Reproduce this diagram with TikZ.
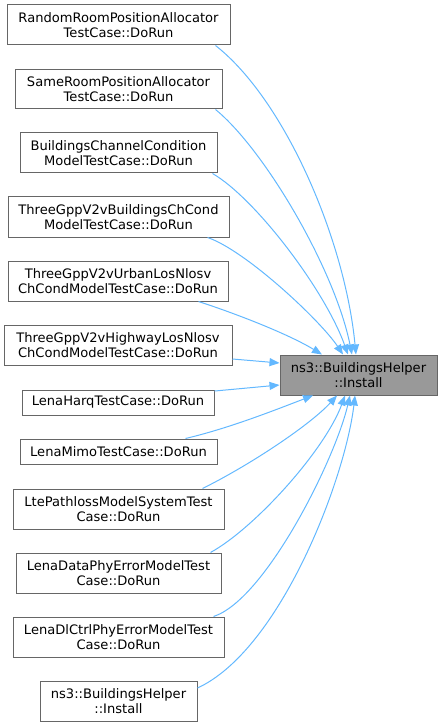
\documentclass[tikz,border=0pt]{standalone}
\usepackage{fontspec}
\newfontfamily\dvs{DejaVu Sans}
\usetikzlibrary{arrows.meta}
\definecolor{edgeblue}{HTML}{63B8FF}
\definecolor{boxborder}{HTML}{666666}
\definecolor{targetfill}{HTML}{999999}
\tikzset{
  fnbox/.style={draw=boxborder, line width=0.75pt, fill=white, rectangle, inner sep=0pt, align=center,
    font=\dvs\fontsize{9.8}{11.3}\selectfont},
  targetbox/.style={fnbox, fill=targetfill},
  edge/.style={draw=edgeblue, line width=0.75pt, -{Triangle[length=7.5pt,width=6pt]}}
}
\begin{document}
\begin{tikzpicture}[x=0.75pt,y=-0.75pt]
\useasboundingbox (0,0) rectangle (443,727);
\node[fnbox, minimum width=167.25pt, minimum height=30pt] (n1) at (118.5,25) {RandomRoomPositionAllocator\\TestCase::DoRun};
\node[fnbox, minimum width=155.25pt, minimum height=29.25pt] (n2) at (118.5,89.5) {SameRoomPositionAllocator\\TestCase::DoRun};
\node[fnbox, minimum width=147.75pt, minimum height=30pt] (n3) at (118.5,153) {BuildingsChannelCondition\\ModelTestCase::DoRun};
\node[fnbox, minimum width=165.75pt, minimum height=30pt] (n4) at (118.5,217) {ThreeGppV2vBuildingsChCond\\ModelTestCase::DoRun};
\node[fnbox, minimum width=165pt, minimum height=30pt] (n5) at (118,281) {ThreeGppV2vUrbanLosNlosv\\ChCondModelTestCase::DoRun};
\node[fnbox, minimum width=171pt, minimum height=30pt] (n6) at (118,345) {ThreeGppV2vHighwayLosNlosv\\ChCondModelTestCase::DoRun};
\node[fnbox, minimum width=144pt, minimum height=18.75pt] (n7) at (118,402.5) {LenaHarqTestCase::DoRun};
\node[fnbox, minimum width=147.75pt, minimum height=18.75pt] (n8) at (118.5,451.5) {LenaMimoTestCase::DoRun};
\node[fnbox, minimum width=158.25pt, minimum height=30pt] (n9) at (118.5,509) {LtePathlossModelSystemTest\\Case::DoRun};
\node[fnbox, minimum width=153.75pt, minimum height=30pt] (n10) at (118.5,573) {LenaDataPhyErrorModelTest\\Case::DoRun};
\node[fnbox, minimum width=158.25pt, minimum height=30pt] (n11) at (118.5,637) {LenaDlCtrlPhyErrorModelTest\\Case::DoRun};
\node[fnbox, minimum width=117.75pt, minimum height=30pt] (n12) at (118.5,701) {ns3::BuildingsHelper\\::Install};
\node[targetbox, minimum width=117.75pt, minimum height=30pt] (t) at (358.5,375) {ns3::BuildingsHelper\\::Install};

\draw[edge] ([xshift=-11.25pt]n1.south east) .. controls (285,100) and (345,240) .. ([xshift=-1.9pt]t.north);
\draw[edge] ([xshift=-5.25pt]n2.south east) .. controls (265,150) and (335,270) .. ([xshift=-4.9pt]t.north);
\draw[edge] ([xshift=-3.75pt]n3.south east) .. controls (255,198) and (325,290) .. ([xshift=-7.9pt]t.north);
\draw[edge] ([xshift=-16.5pt]n4.south east) .. controls (245,250) and (320,320) .. ([xshift=-11.6pt]t.north);
\draw[edge] ([xshift=-22.5pt]n5.south east) .. controls (240,315) and (290,335) .. ([xshift=-27.4pt]t.north);
\draw[edge] ([yshift=-10.5pt]n6.east) -- ([yshift=9pt]t.west);
\draw[edge] ([yshift=8.6pt]n7.east) -- ([yshift=-7.5pt]t.west);
\draw[edge] ([xshift=-24pt]n8.north east) .. controls (230,428) and (275,410) .. ([xshift=-34.1pt]t.south);
\draw[edge] ([xshift=-16.5pt]n9.north east) .. controls (250,465) and (310,425) .. ([xshift=-16.1pt]t.south);
\draw[edge] ([xshift=-8.25pt]n10.north east) .. controls (255,528) and (325,450) .. ([xshift=-10.1pt]t.south);
\draw[edge] ([xshift=-8.25pt]n11.north east) .. controls (265,600) and (335,460) .. ([xshift=-6.4pt]t.south);
\draw[edge] ([yshift=9.75pt]n12.east) .. controls (280,650) and (345,480) .. ([xshift=-2.6pt]t.south);
\end{tikzpicture}
\end{document}
